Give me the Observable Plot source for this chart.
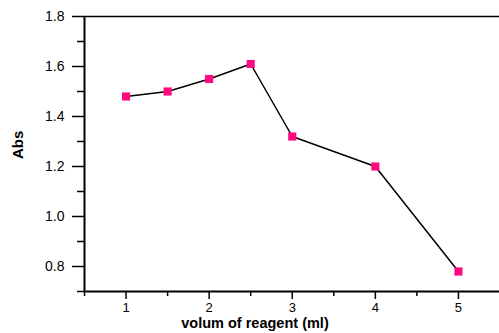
<!DOCTYPE html>
<html><head><meta charset="utf-8">
<script src="https://cdn.jsdelivr.net/npm/d3@7"></script>
<script src="https://cdn.jsdelivr.net/npm/@observablehq/plot@0.6"></script>
<style>
body{margin:0;background:#fff;}
svg{font-family:"Liberation Sans",Arial,sans-serif;}
</style>
</head><body><div id="chart"></div>
<script>
const volume = [1, 1.5, 2, 2.5, 3, 4, 5];
const absorbance = [1.48, 1.50, 1.55, 1.61, 1.32, 1.20, 0.78];
const yMajor = [0.8, 1.0, 1.2, 1.4, 1.6, 1.8];
const yMinor = [0.7, 0.9, 1.1, 1.3, 1.5, 1.7];
const xMajor = [1, 2, 3, 4, 5];
const xMinor = [0.5, 1.5, 2.5, 3.5, 4.5];
const xLabel = "volum of reagent (ml)";
const yLabel = "Abs";

const data = volume.map((v, i) => ({v, a: absorbance[i]}));

const chart = Plot.plot({
  width: 499, height: 333,
  marginLeft: 84, marginTop: 16, marginBottom: 42, marginRight: 0,
  style: {fontFamily: '"Liberation Sans", Arial, sans-serif', background: "#fff", color: "#000"},
  x: {domain: [0.5, 5.494]},
  y: {domain: [0.7, 1.8]},
  marks: [
    Plot.axisY({ticks: yMinor, tickSize: 7, tickFormat: () => "", strokeWidth: 1.5, label: null}),
    Plot.axisY({ticks: yMajor, tickSize: 12, tickPadding: 8, tickFormat: d3.format(".1f"), fontSize: 14, strokeWidth: 1.5, label: null}),
    Plot.axisX({ticks: xMinor, tickSize: 5, tickFormat: () => "", strokeWidth: 1.5, label: null}),
    Plot.axisX({ticks: xMajor, tickSize: 8, tickPadding: 3, tickFormat: d3.format("d"), fontSize: 13, strokeWidth: 1.5, label: null}),
    Plot.ruleY([0.7], {strokeWidth: 2}),
    Plot.ruleY([1.8], {strokeWidth: 1.5}),
    Plot.ruleX([0.5], {strokeWidth: 2}),
    Plot.line(data, {x: "v", y: "a", stroke: "#000", strokeWidth: 1.5}),
    Plot.dot(data, {x: "v", y: "a", symbol: "square", r: 4.6, fill: "#ff0a80", stroke: "none"}),
    Plot.text([xLabel], {frameAnchor: "bottom", dx: -37, dy: 36, fontSize: 14.5, fontWeight: "bold", text: d => d}),
    Plot.text([yLabel], {frameAnchor: "left", dx: -66, dy: 5, rotate: -90, fontSize: 15, fontWeight: "bold", text: d => d})
  ]
});
document.getElementById("chart").appendChild(chart);
</script>
</body></html>
